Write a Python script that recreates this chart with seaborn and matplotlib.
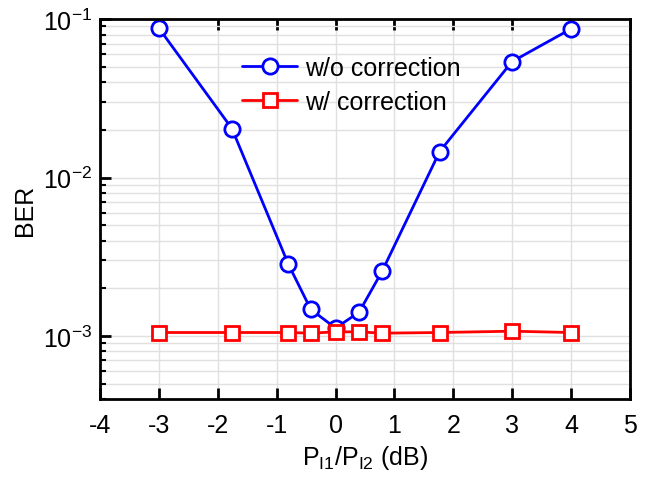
import matplotlib
matplotlib.use("Agg")
import matplotlib.pyplot as plt
import seaborn as sns
import numpy as np
from matplotlib.ticker import LogLocator, MultipleLocator, NullFormatter

x_vals = [-3, -1.76, -0.8, -0.42, 0.0, 0.4, 0.79, 1.77, 3.0, 4.0]
ber_wo = [0.0877, 0.0204, 0.00283, 0.00147, 0.00112, 0.00141, 0.00255, 0.0146, 0.054, 0.0868]
ber_w = [0.00105, 0.00105, 0.00105, 0.00104, 0.00106, 0.00106, 0.00104, 0.00105, 0.00107, 0.00105]
labels = ["w/o correction", "w/ correction"]

sns.set_style("white")
plt.rcParams['font.family'] = ['Liberation Sans', 'DejaVu Sans']
plt.rcParams['mathtext.fontset'] = 'custom'
plt.rcParams['mathtext.rm'] = 'Liberation Sans'
plt.rcParams['mathtext.it'] = 'Liberation Sans'
plt.rcParams['mathtext.default'] = 'regular'
plt.rcParams['axes.unicode_minus'] = False
plt.rcParams['text.color'] = 'black'
plt.rcParams['axes.labelcolor'] = 'black'
plt.rcParams['xtick.color'] = 'black'
plt.rcParams['ytick.color'] = 'black'

fig = plt.figure(figsize=(6.54, 4.81), dpi=100)
ax = fig.add_axes([0.153, 0.168, 0.81, 0.79])

sns.lineplot(x=x_vals, y=ber_wo, ax=ax, color='#0000ff', lw=2, marker='o', markersize=11,
             markerfacecolor='white', markeredgecolor='#0000ff', markeredgewidth=2,
             label=labels[0], sort=False)
sns.lineplot(x=x_vals, y=ber_w, ax=ax, color='#ff0000', lw=2, marker='s', markersize=10,
             markerfacecolor='white', markeredgecolor='#ff0000', markeredgewidth=2,
             label=labels[1], sort=False)

ax.set_yscale('log')
ax.set_xlim(-4, 5)
ax.set_ylim(10**-3.4, 0.1)
ax.xaxis.set_major_locator(MultipleLocator(1))
ax.yaxis.set_major_locator(LogLocator(base=10, numticks=10))
ax.yaxis.set_minor_locator(LogLocator(base=10, subs=np.arange(2, 10), numticks=20))
ax.yaxis.set_minor_formatter(NullFormatter())

ax.grid(True, which='major', axis='x', color='#e0e0e0', lw=1)
ax.grid(True, which='both', axis='y', color='#e0e0e0', lw=1)
ax.set_axisbelow(True)

for s in ax.spines.values():
    s.set_linewidth(2)
    s.set_color('black')
ax.tick_params(axis='x', which='major', direction='in', length=8, width=2, top=True, bottom=True, labelsize=18, pad=10)
ax.tick_params(axis='y', which='major', direction='in', length=8, width=2, left=True, right=False, labelsize=18, pad=6)
ax.tick_params(axis='y', which='minor', direction='in', length=4, width=1.5, left=True, right=False)

ax.set_xlabel(r'P$_{\mathregular{I1}}$/P$_{\mathregular{I2}}$ (dB)', fontsize=18, labelpad=4)
ax.set_ylabel('BER', fontsize=18, labelpad=4)

ax.legend(loc='upper left', bbox_to_anchor=(0.25, 0.93), frameon=False, fontsize=18,
          handlelength=2.2, handletextpad=0.3, labelspacing=0.4, borderaxespad=0)

fig.savefig('out.png', dpi=100)
